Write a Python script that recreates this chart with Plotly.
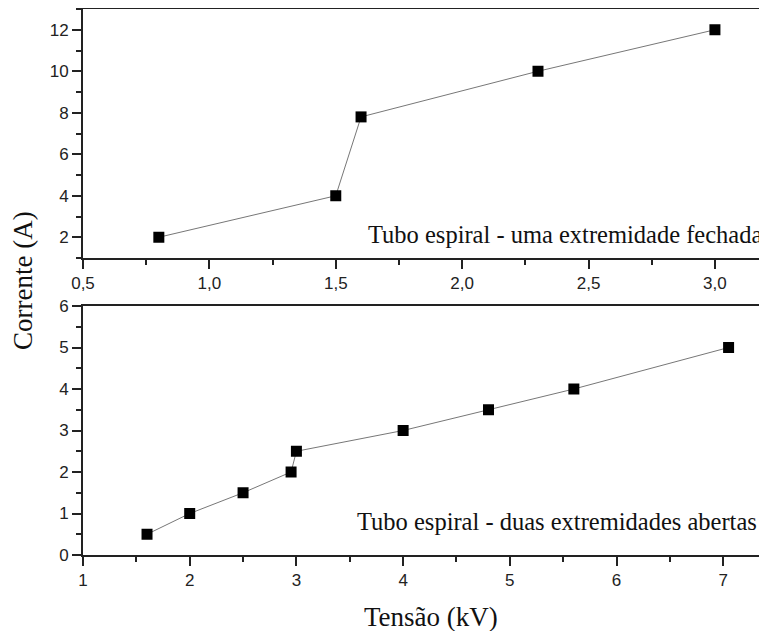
import plotly.graph_objects as go

# Top panel: Tubo espiral - uma extremidade fechada
top_x = [0.8, 1.5, 1.6, 2.3, 3.0]
top_y = [2.0, 4.0, 7.8, 10.0, 12.0]
# Bottom panel: Tubo espiral - duas extremidades abertas
bot_x = [1.6, 2.0, 2.5, 2.95, 3.0, 4.0, 4.8, 5.6, 7.05]
bot_y = [0.5, 1.0, 1.5, 2.0, 2.5, 3.0, 3.5, 4.0, 5.0]

top_label = "Tubo espiral - uma extremidade fechada"
bot_label = "Tubo espiral - duas extremidades abertas"
y_title = "Corrente (A)"
x_title = "Tensão (kV)"

# The page body has an 8px margin, so the figure is drawn 8px in from the window corner.
OFF = 8
WIN_W, WIN_H = 767, 631
W, H = WIN_W - OFF, WIN_H - OFF
# layout measured in window pixels, converted to figure pixels
L_win = 83
top_t, top_b = 9, 258
bot_t, bot_b = 306, 555

ML = L_win - OFF
MR = 0
MT = top_t - OFF
MB = H - (bot_b - OFF)
PW, PH = W - ML - MR, H - MT - MB


def px_x(px):
    return (px - OFF - ML) / PW


def px_y(py):
    return (H - MB - (py - OFF)) / PH


fig = go.Figure()
line_style = dict(color="#777777", width=1)
marker_style = dict(symbol="square", size=11, color="black")
fig.add_trace(go.Scatter(x=top_x, y=top_y, mode="lines+markers", line=line_style,
                         marker=marker_style, xaxis="x", yaxis="y", showlegend=False))
fig.add_trace(go.Scatter(x=bot_x, y=bot_y, mode="lines+markers", line=line_style,
                         marker=marker_style, xaxis="x2", yaxis="y2", showlegend=False))

tickfont = dict(family="Liberation Sans, Arial", size=17, color="#222222")
axis_common = dict(showline=True, linecolor="#222222", linewidth=2, ticks="outside",
                   ticklen=9, tickwidth=1.5, tickcolor="#222222", showgrid=False,
                   zeroline=False, tickfont=tickfont, automargin=False)
minor_common = dict(ticks="outside", ticklen=5, tickwidth=1.5, tickcolor="#222222", showgrid=False)

xd = [0.0, 1.0]
fig.update_layout(
    width=W, height=H, margin=dict(l=ML, r=MR, t=MT, b=MB, autoexpand=False),
    paper_bgcolor="white", plot_bgcolor="white",
    separators=",.",
    xaxis=dict(domain=xd, range=[0.5, 3.206], anchor="y", tickvals=[0.5, 1.0, 1.5, 2.0, 2.5, 3.0],
               tickformat=".1f", mirror=True,
               minor=dict(dtick=0.25, tick0=0.5, **minor_common), **axis_common),
    yaxis=dict(domain=[px_y(top_b), px_y(top_t)], range=[1, 13], anchor="x",
               tickvals=[2, 4, 6, 8, 10, 12],
               minor=dict(dtick=1, tick0=1, **minor_common), **axis_common),
    xaxis2=dict(domain=xd, range=[1, 7.41], anchor="y2", tickvals=[1, 2, 3, 4, 5, 6, 7],
                mirror=True,
                minor=dict(dtick=0.5, tick0=1, **minor_common), **axis_common),
    yaxis2=dict(domain=[px_y(bot_b), px_y(bot_t)], range=[0, 6], anchor="x2",
                tickvals=[0, 1, 2, 3, 4, 5, 6],
                minor=dict(dtick=0.5, tick0=0, **minor_common), **axis_common),
)

serif = "Liberation Serif, Times New Roman"
fig.add_annotation(text=top_label, xref="paper", yref="paper", x=px_x(764), y=px_y(234),
                   xanchor="right", yanchor="middle", showarrow=False,
                   font=dict(family=serif, size=24.5, color="#111111"))
fig.add_annotation(text=bot_label, xref="paper", yref="paper", x=px_x(759), y=px_y(521),
                   xanchor="right", yanchor="middle", showarrow=False,
                   font=dict(family=serif, size=24.5, color="#111111"))
fig.add_annotation(text=y_title, xref="paper", yref="paper", x=px_x(23), y=px_y(281),
                   xanchor="center", yanchor="middle", textangle=-90, showarrow=False,
                   font=dict(family=serif, size=27, color="#111111"))
fig.add_annotation(text=x_title, xref="paper", yref="paper", x=px_x(431), y=px_y(617),
                   xanchor="center", yanchor="middle", showarrow=False,
                   font=dict(family=serif, size=27, color="#111111"))

fig.write_html("out.html")
